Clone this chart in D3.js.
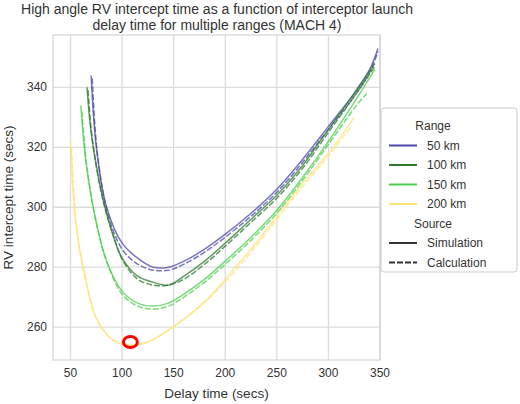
<!DOCTYPE html>
<html><head><meta charset="utf-8">
<script src="https://cdn.jsdelivr.net/npm/d3@7"></script>
<style>body{margin:0;background:#fff}text{font-family:Arial,"Liberation Sans",sans-serif;fill:#333}</style>
</head><body><svg id="c" width="520" height="404"></svg>
<script>
// delay time (secs) vs RV intercept time (secs)
var ranges = ['50 km', '100 km', '150 km', '200 km'];
var colors = ['#4a4aa8', '#2f7a30', '#4ccd4c', '#ffe27a'];
var xTicks = [50, 100, 150, 200, 250, 300, 350];
var yTicks = [260, 280, 300, 320, 340];

var sim50 = [[70,344],[75,320],[85,300],[100,288],[115,283],[130,280],[145,280],[160,282],[180,286],[200,291],[225,298],[250,306],[275,316],[300,327],[325,338],[340,346],[348,353]];
var calc50 = [[71,343],[76,318],[86,298],[100,286],[115,281],[130,279],[145,279],[160,281],[180,285],[200,290],[225,297],[250,305],[275,315],[300,326],[325,337],[340,345],[348,352]];
var sim100 = [[66,340],[70,325],[80,305],[90,292],[100,283],[115,277],[130,275],[145,274],[160,277],[180,282],[200,288],[225,296],[250,304],[275,314],[300,326],[325,338],[345,348]];
var calc100 = [[67,339],[71,323],[81,303],[91,291],[101,282],[115,276],[130,274],[145,274],[160,276],[180,281],[200,287],[225,295],[250,303],[275,313],[300,325],[325,337],[345,347]];
var sim150 = [[60,334],[65,315],[75,295],[85,282],[100,272],[115,268],[130,267],[145,268],[160,271],[180,276],[200,282],[225,290],[250,299],[275,310],[300,322],[325,335],[345,346]];
var calc150 = [[61,332],[66,313],[76,293],[86,281],[100,271],[115,267],[130,266],[145,267],[160,270],[180,275],[200,281],[225,289],[250,298],[275,309],[300,321],[325,333],[337,338]];
var sim200 = [[50,322],[55,295],[65,275],[75,263],[90,256],[105,254],[125,255],[145,259],[165,264],[185,270],[205,278],[225,286],[250,297],[275,308],[300,318],[325,330]];
var calc200 = [[51,320],[56,293],[66,274],[76,262],[90,256],[105,254],[125,255],[145,259],[165,264],[185,270],[205,277],[225,285],[250,296],[275,307],[300,317],[322,327]];
var simSeries = [sim50, sim100, sim150, sim200];
var calcSeries = [calc50, calc100, calc150, calc200];
var marker = [108, 255];

var svg = d3.select('#c');
var m = {l: 53, r: 380, t: 35, b: 360};
var x = d3.scaleLinear().domain([33, 350]).range([m.l, m.r]);
var y = d3.scaleLinear().domain([249, 357.5]).range([m.b, m.t]);

svg.append('g').selectAll('line').data(xTicks).join('line')
    .attr('x1', d => x(d)).attr('x2', d => x(d)).attr('y1', m.t).attr('y2', m.b)
    .attr('stroke', '#dcdcdc').attr('stroke-width', 1.3);
svg.append('g').selectAll('line').data(yTicks).join('line')
    .attr('y1', d => y(d)).attr('y2', d => y(d)).attr('x1', m.l).attr('x2', m.r)
    .attr('stroke', '#dcdcdc').attr('stroke-width', 1.3);
svg.append('rect').attr('x', m.l).attr('y', m.t).attr('width', m.r - m.l).attr('height', m.b - m.t)
    .attr('fill', 'none').attr('stroke', '#ccc');

svg.append('g').selectAll('text').data(xTicks).join('text')
    .attr('x', d => x(d)).attr('y', m.b + 17).attr('text-anchor', 'middle').attr('font-size', 12).text(d => d);
svg.append('g').selectAll('text').data(yTicks).join('text')
    .attr('x', m.l - 6).attr('y', d => y(d) + 4).attr('text-anchor', 'end').attr('font-size', 12).text(d => d);

svg.append('text').attr('x', (m.l + m.r) / 2).attr('y', 398).attr('text-anchor', 'middle')
    .attr('font-size', 13.5).text('Delay time (secs)');
svg.append('text').attr('transform', 'translate(13,' + (m.t + m.b) / 2 + ') rotate(-90)')
    .attr('text-anchor', 'middle').attr('font-size', 13.5).text('RV intercept time (secs)');
svg.append('text').attr('x', 217).attr('y', 14).attr('text-anchor', 'middle').attr('font-size', 14)
    .text('High angle RV intercept time as a function of interceptor launch');
svg.append('text').attr('x', 217).attr('y', 30).attr('text-anchor', 'middle').attr('font-size', 14)
    .text('delay time for multiple ranges (MACH 4)');

var line = d3.line().x(d => x(d[0])).y(d => y(d[1])).curve(d3.curveCatmullRom);
simSeries.forEach(function(s, i) {
    svg.append('path').attr('d', line(s)).attr('fill', 'none').attr('stroke', colors[i])
        .attr('stroke-width', 1.5).attr('opacity', 0.75);
    svg.append('path').attr('d', line(calcSeries[i])).attr('fill', 'none').attr('stroke', colors[i])
        .attr('stroke-width', 1.5).attr('stroke-dasharray', '6,2').attr('opacity', 0.75);
});
svg.append('ellipse').attr('cx', x(marker[0])).attr('cy', y(marker[1])).attr('rx', 7).attr('ry', 5.5)
    .attr('fill', 'none').attr('stroke', '#f00').attr('stroke-width', 3);

// legend
var lg = svg.append('g').attr('transform', 'translate(381,108)');
lg.append('rect').attr('width', 136).attr('height', 164).attr('rx', 3)
    .attr('fill', '#fff').attr('stroke', '#ccc');
var items = [{t: 'Range', h: true}].concat(ranges.map((r, i) => ({t: r, c: colors[i]})))
    .concat([{t: 'Source', h: true}, {t: 'Simulation', c: '#333'}, {t: 'Calculation', c: '#333', dash: true}]);
items.forEach(function(it, i) {
    var yy = 18 + i * 19.5;
    if (it.h) {
        lg.append('text').attr('x', 52).attr('y', yy + 4).attr('text-anchor', 'middle').attr('font-size', 12).text(it.t);
        return;
    }
    lg.append('line').attr('x1', 8).attr('x2', 36).attr('y1', yy).attr('y2', yy).attr('stroke', it.c)
        .attr('stroke-width', 2).attr('stroke-dasharray', it.dash ? '6,2' : null);
    lg.append('text').attr('x', 46).attr('y', yy + 4).attr('font-size', 12).text(it.t);
});
</script></body></html>
